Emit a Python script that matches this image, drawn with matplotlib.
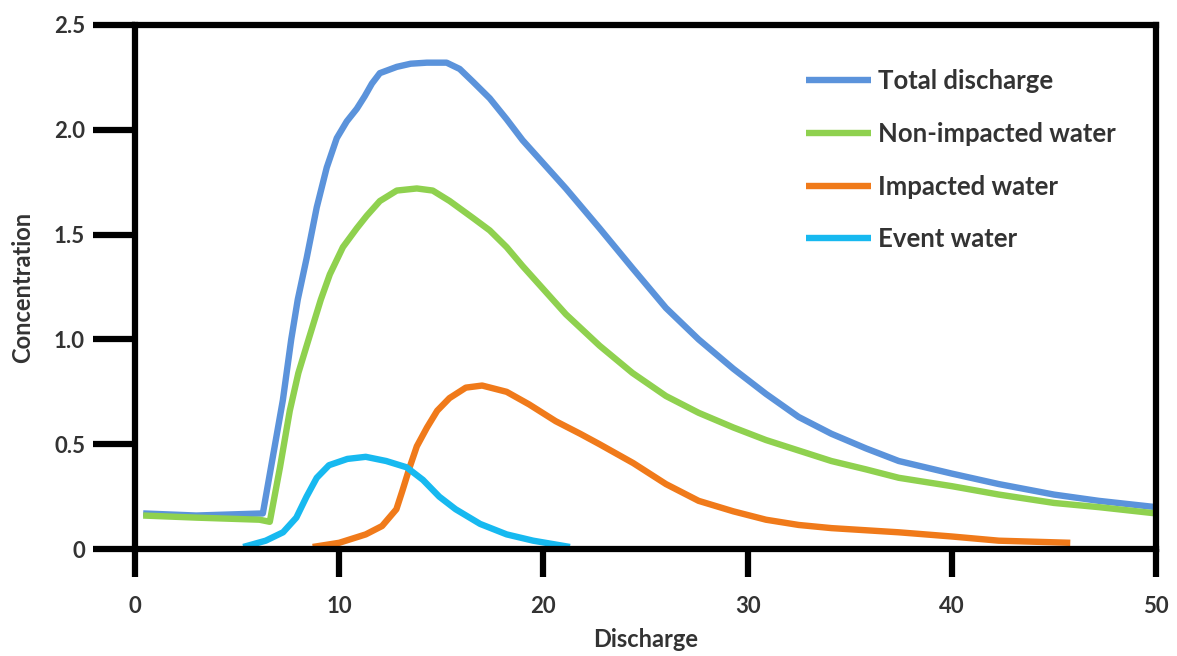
import matplotlib
matplotlib.use("Agg")
import matplotlib.pyplot as plt

# Values
total_x = [0.4, 3.0, 6.26, 6.75, 7.24, 7.65, 7.97, 8.41, 8.90, 9.39, 9.88, 10.37, 10.86, 11.25,
           11.60, 11.99, 12.82, 13.5, 14.29, 15.26, 15.90, 16.54, 17.37, 18.20, 18.98, 19.81,
           21.1, 22.75, 24.36, 26.0, 27.6, 29.3, 30.9, 32.5, 34.1, 35.8, 37.4, 40.0, 42.3,
           45.0, 47.2, 50.0]
total_y = [0.17, 0.16, 0.17, 0.44, 0.71, 1.00, 1.19, 1.39, 1.63, 1.82, 1.96, 2.04, 2.10, 2.16,
           2.22, 2.27, 2.30, 2.315, 2.32, 2.32, 2.29, 2.23, 2.15, 2.05, 1.95, 1.86,
           1.72, 1.53, 1.34, 1.15, 1.00, 0.86, 0.74, 0.63, 0.55, 0.48, 0.42, 0.36, 0.31,
           0.26, 0.23, 0.20]

nonimp_x = [0.4, 3.0, 6.1, 6.6, 7.1, 7.58, 8.0, 8.5, 9.1, 9.54, 10.18, 10.86, 11.35, 11.99,
            12.82, 13.80, 14.58, 15.41, 16.54, 17.37, 18.2, 18.98, 19.81, 21.1, 22.75, 24.36,
            26.0, 27.6, 29.3, 30.9, 32.5, 34.1, 35.8, 37.4, 40.0, 42.3, 45.0, 47.2, 50.0]
nonimp_y = [0.16, 0.15, 0.14, 0.13, 0.39, 0.66, 0.84, 1.0, 1.19, 1.31, 1.44, 1.53, 1.59, 1.66,
            1.71, 1.72, 1.71, 1.66, 1.58, 1.52, 1.44, 1.35, 1.26, 1.12, 0.97, 0.84,
            0.73, 0.65, 0.58, 0.52, 0.47, 0.42, 0.38, 0.34, 0.30, 0.26, 0.22, 0.20, 0.17]

imp_x = [8.7, 10.0, 11.3, 12.1, 12.8, 13.1, 13.45, 13.8, 14.3, 14.8, 15.4, 16.2, 17.0, 18.2,
         19.3, 20.6, 21.8, 22.75, 24.4, 26.0, 27.6, 29.3, 30.9, 32.5, 34.1, 37.4, 40.0, 42.3, 45.8]
imp_y = [0.01, 0.03, 0.07, 0.11, 0.19, 0.28, 0.39, 0.49, 0.58, 0.66, 0.72, 0.77, 0.78, 0.75,
         0.69, 0.61, 0.55, 0.50, 0.41, 0.31, 0.23, 0.18, 0.14, 0.115, 0.10, 0.08, 0.06, 0.04, 0.03]

event_x = [5.3, 6.4, 7.25, 7.9, 8.4, 8.9, 9.5, 10.4, 11.3, 12.3, 13.3, 14.1, 14.9, 15.7, 16.9,
           18.2, 19.5, 21.3]
event_y = [0.01, 0.04, 0.08, 0.15, 0.25, 0.34, 0.40, 0.43, 0.44, 0.42, 0.39, 0.33, 0.25, 0.19,
           0.12, 0.07, 0.04, 0.01]

xticks = [0, 10, 20, 30, 40, 50]
yticks = [0, 0.5, 1.0, 1.5, 2.0, 2.5]
ytick_labels = ["0", "0.5", "1.0", "1.5", "2.0", "2.5"]

plt.rcParams['font.family'] = ['Lato', 'DejaVu Sans']

fig = plt.figure(figsize=(11.77, 6.56), dpi=100)
ax = fig.add_axes([0.1147, 0.163, 0.8675, 0.799])

lw = 4.6
style = dict(lw=lw, solid_joinstyle='round', solid_capstyle='butt')
ax.plot(total_x, total_y, color='#5b93db', label='Total discharge', **style)
ax.plot(nonimp_x, nonimp_y, color='#8fd14f', label='Non-impacted water', **style)
ax.plot(imp_x, imp_y, color='#f07a1a', label='Impacted water', **style)
ax.plot(event_x, event_y, color='#17b9f0', label='Event water', **style)

ax.set_xlim(0, 50)
ax.set_ylim(0, 2.5)
ax.set_xticks(xticks)
ax.set_yticks(yticks)
ax.set_yticklabels(ytick_labels)

for s in ax.spines.values():
    s.set_linewidth(4.5)
    s.set_color('black')

ax.tick_params(axis='y', direction='out', length=30, width=4.5, pad=6,
               labelsize=16, labelcolor='#333333')
ax.tick_params(axis='x', direction='out', length=20, width=4.5, pad=14,
               labelsize=16, labelcolor='#333333')
for t in ax.get_xticklabels() + ax.get_yticklabels():
    t.set_fontweight('bold')

ax.set_xlabel("Discharge", fontsize=17, fontweight='bold', color='#333333', labelpad=8)
ax.set_ylabel("Concentration", fontsize=17, fontweight='bold', color='#333333', labelpad=14)

leg = ax.legend(loc='upper left', bbox_to_anchor=(0.635, 0.96), frameon=False,
                fontsize=18.5, handlelength=2.5, handletextpad=0.3, labelspacing=1.12)
for t in leg.get_texts():
    t.set_fontweight('bold')
    t.set_color('#333333')

fig.savefig("out.png", dpi=100)
